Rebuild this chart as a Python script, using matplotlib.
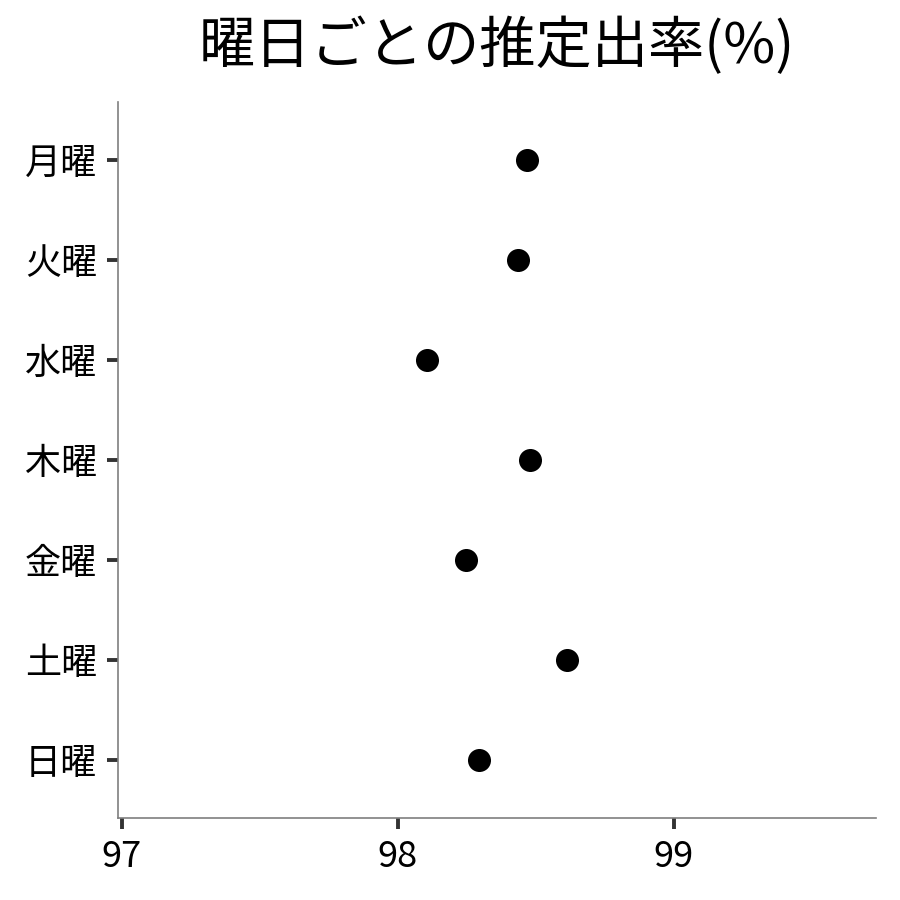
import matplotlib
matplotlib.use("Agg")
import matplotlib.pyplot as plt

plt.rcParams["font.family"] = ["Noto Sans CJK JP", "DejaVu Sans"]

# data
days = ["月曜", "火曜", "水曜", "木曜", "金曜", "土曜", "日曜"]
rates = [98.467, 98.435, 98.105, 98.478, 98.246, 98.612, 98.293]
xticks = [97, 98, 99]

fig = plt.figure(figsize=(9, 9), dpi=100)
ax = fig.add_axes([118 / 900, 82 / 900, (876 - 118) / 900, (818 - 102) / 900])

ypos = list(range(len(days)))
ax.scatter(rates, ypos, s=275, color="black", zorder=3, linewidths=0)

ax.set_xlim(96.986, 99.732)
ax.set_ylim(len(days) - 1 + 0.58, -0.58)
ax.set_yticks(ypos)
ax.set_yticklabels(days)
ax.set_xticks(xticks)
ax.set_xticklabels([str(v) for v in xticks])

for side in ["top", "right"]:
    ax.spines[side].set_visible(False)
for side in ["left", "bottom"]:
    ax.spines[side].set_color("#7f7f7f")
    ax.spines[side].set_linewidth(1.2)

ax.tick_params(axis="both", colors="#333333", width=2.8, length=8, labelsize=26,
               labelcolor="black")
ax.tick_params(axis="y", pad=7)
ax.tick_params(axis="x", pad=7)

# 标题居中于绘图区
fig.text((118 + 876) / 2 / 900, 1 - 47 / 900, "曜日ごとの推定出率(%)", ha="center",
         va="center", fontsize=40.5, color="black")

fig.savefig("out.png", dpi=100, facecolor="white")
